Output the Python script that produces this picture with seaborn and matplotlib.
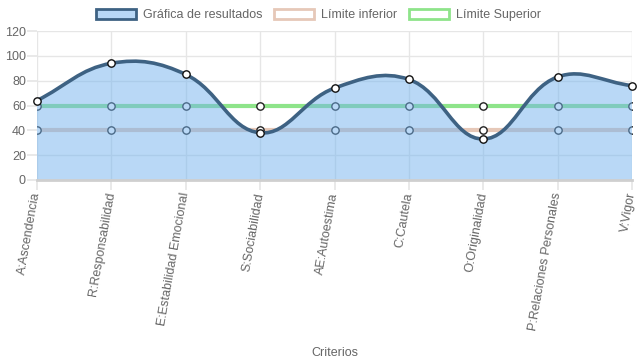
import numpy as np
import pandas as pd
import matplotlib
matplotlib.use("Agg")
import matplotlib.pyplot as plt
import matplotlib.transforms as mtransforms
import seaborn as sns
from matplotlib.path import Path
from matplotlib.patches import PathPatch, Patch

# data
criterios = ["A:Ascendencia", "R:Responsabilidad", "E:Estabilidad Emocional",
             "S:Sociabilidad", "AE:Autoestima", "C:Cautela", "O:Originalidad",
             "P:Relaciones Personales", "V:Vigor"]
resultados = [64, 94, 85, 38, 74, 81, 33, 83, 76]
limite_inferior = [40, 40, 40, 40, 40, 40, 40, 40, 40]
limite_superior = [60, 60, 60, 60, 60, 60, 60, 60, 60]

df = pd.DataFrame({
    "x": np.arange(len(criterios)),
    "criterio": criterios,
    "resultados": resultados,
    "inferior": limite_inferior,
    "superior": limite_superior,
})

TXT = "#666666"
GRID = "#e6e6e6"
BLUE_LINE = "#3e6283"
BLUE_FILL = (116 / 255, 179 / 255, 238 / 255, 0.5)
BEIGE = "#e6c8b8"
GREEN = "#8ee48a"

sns.set_theme(style="white")
plt.rcParams["font.family"] = ["Liberation Sans", "DejaVu Sans"]

fig = plt.figure(figsize=(6.37, 3.59), dpi=100)
ax = fig.add_axes([37 / 637, 1 - 180 / 359, 595 / 637, 149 / 359])
ax.set_xlim(0, len(criterios) - 1)
ax.set_ylim(0, 120)

# limit lines (drawn under the main series fill)
sns.lineplot(data=df, x="x", y="inferior", ax=ax, color=BEIGE, lw=3, zorder=2)
sns.lineplot(data=df, x="x", y="superior", ax=ax, color=GREEN, lw=3, zorder=2)
for col in ["inferior", "superior"]:
    sns.scatterplot(data=df, x="x", y=col, ax=ax, s=28, color="white",
                    edgecolor="#222222", linewidth=1.0, zorder=3)


def spline_path(xs, ys, t=0.4):
    # chart.js style bezier smoothing, done in pixel space
    bbox = ax.get_window_extent()
    sx = bbox.width / (ax.get_xlim()[1] - ax.get_xlim()[0])
    sy = bbox.height / (ax.get_ylim()[1] - ax.get_ylim()[0])
    px = np.array(xs) * sx
    py = np.array(ys) * sy
    n = len(px)
    cp_prev, cp_next = [], []
    for i in range(n):
        p0 = (px[max(i - 1, 0)], py[max(i - 1, 0)])
        p1 = (px[i], py[i])
        p2 = (px[min(i + 1, n - 1)], py[min(i + 1, n - 1)])
        d01 = np.hypot(p1[0] - p0[0], p1[1] - p0[1])
        d12 = np.hypot(p2[0] - p1[0], p2[1] - p1[1])
        tot = d01 + d12
        s01 = d01 / tot if tot else 0
        s12 = d12 / tot if tot else 0
        fa, fb = t * s01, t * s12
        cp_prev.append((p1[0] - fa * (p2[0] - p0[0]), p1[1] - fa * (p2[1] - p0[1])))
        cp_next.append((p1[0] + fb * (p2[0] - p0[0]), p1[1] + fb * (p2[1] - p0[1])))
    ymax = 120 * sy
    verts = [(px[0], py[0])]
    codes = [Path.MOVETO]
    for i in range(n - 1):
        a = cp_next[i]
        b = cp_prev[i + 1]
        verts += [(a[0], min(max(a[1], 0), ymax)), (b[0], min(max(b[1], 0), ymax)),
                  (px[i + 1], py[i + 1])]
        codes += [Path.CURVE4] * 3
    verts = [(v[0] / sx, v[1] / sy) for v in verts]
    return verts, codes


verts, codes = spline_path(df["x"], df["resultados"])
fill_verts = verts + [(df["x"].iloc[-1], 0), (df["x"].iloc[0], 0), verts[0]]
fill_codes = codes + [Path.LINETO, Path.LINETO, Path.CLOSEPOLY]
ax.add_patch(PathPatch(Path(fill_verts, fill_codes), facecolor=BLUE_FILL,
                       edgecolor="none", zorder=4))
ax.add_patch(PathPatch(Path(verts, codes), facecolor="none", edgecolor=BLUE_LINE,
                       lw=2.6, zorder=5, capstyle="round"))
sns.scatterplot(data=df, x="x", y="resultados", ax=ax, s=28, color="white",
                edgecolor="#111111", linewidth=1.0, zorder=6, clip_on=False)

# axes styling
ax.set_yticks(range(0, 121, 20))
ax.set_xticks(df["x"])
ax.set_xticklabels(criterios, rotation=80, ha="right", va="center",
                   rotation_mode="anchor")
shift = mtransforms.ScaledTranslation(-2 / 100, 3 / 100, fig.dpi_scale_trans)
for lab in ax.get_xticklabels():
    lab.set_transform(lab.get_transform() + shift)
ax.grid(True, color=GRID, lw=1, zorder=0)
ax.set_axisbelow(True)
for s in ["top", "right", "left"]:
    ax.spines[s].set_visible(False)
ax.spines["bottom"].set_color("#cfcfcf")
ax.spines["bottom"].set_linewidth(2)
ax.spines["bottom"].set_zorder(7)
ax.tick_params(axis="both", length=7, color=GRID, labelsize=9, labelcolor=TXT,
               pad=2, bottom=True, left=True)
ax.tick_params(axis="y", pad=1)
ax.set_xlabel("Criterios", fontsize=9, color=TXT)
ax.xaxis.set_label_coords(0.5, -1.12)
ax.set_ylabel("")

handles = [
    Patch(facecolor=(116 / 255, 179 / 255, 238 / 255, 0.5), edgecolor=BLUE_LINE, lw=2,
          label="Gráfica de resultados"),
    Patch(facecolor="white", edgecolor=BEIGE, lw=2, label="Límite inferior"),
    Patch(facecolor="white", edgecolor=GREEN, lw=2, label="Límite Superior"),
]
fig.legend(handles=handles, loc="center", bbox_to_anchor=(0.5, 1 - 15 / 359),
           ncol=3, frameon=False, fontsize=9, labelcolor=TXT,
           handlelength=3.2, handleheight=0.95, handletextpad=0.6,
           columnspacing=0.9)

fig.savefig("out.png", dpi=100)
